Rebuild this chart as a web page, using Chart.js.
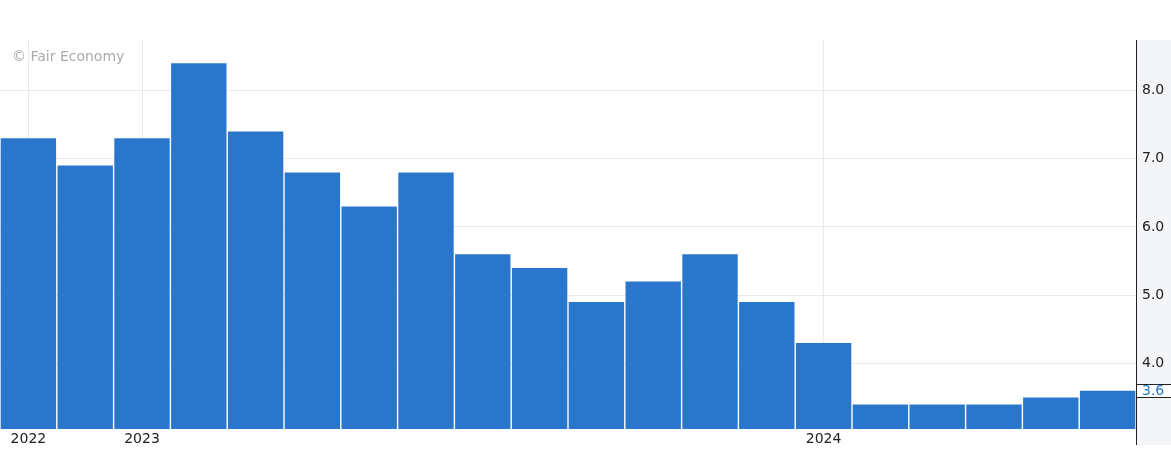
<!DOCTYPE html>
<html>
<head>
<meta charset="utf-8">
<script src="https://cdn.jsdelivr.net/npm/chart.js@4"></script>
<style>
  body { margin: 0; background: #fff; }
  #wrap { width: 1171px; height: 455px; position: relative; }
</style>
</head>
<body>
<div id="wrap"><canvas id="chart"></canvas></div>
<script>
// monthly values, Nov 2022 .. Jun 2024
const months = ["Nov 2022","Dec 2022","Jan 2023","Feb 2023","Mar 2023","Apr 2023","May 2023","Jun 2023",
  "Jul 2023","Aug 2023","Sep 2023","Oct 2023","Nov 2023","Dec 2023","Jan 2024","Feb 2024",
  "Mar 2024","Apr 2024","May 2024","Jun 2024"];
const values = [7.3, 6.9, 7.3, 8.4, 7.4, 6.8, 6.3, 6.8, 5.6, 5.4, 4.9, 5.2, 5.6, 4.9, 4.3, 3.4, 3.4, 3.4, 3.5, 3.6];
const tickLabels = ["2022","","2023","","","","","","","","","","","","2024","","","","",""];
const yTicks = [4, 5, 6, 7, 8];

const barColor = "#2a76cc";
const gridColor = "#e9e9ef";
const font = "14px 'DejaVu Sans'";

const decor = {
  id: "decor",
  beforeDraw(chart) {
    const ctx = chart.ctx;
    const a = chart.chartArea;
    ctx.save();
    // right axis panel
    ctx.fillStyle = "#f4f5f9";
    ctx.fillRect(a.right, a.top, chart.width - a.right, 445 - a.top);
    ctx.restore();
  },
  beforeDatasetsDraw(chart) {
    const ctx = chart.ctx;
    ctx.save();
    ctx.fillStyle = "#ababab";
    ctx.font = font;
    ctx.textBaseline = "middle";
    ctx.fillText("\u00a9 Fair Economy", 12, 57);
    ctx.restore();
  },
  afterDraw(chart) {
    const ctx = chart.ctx;
    const a = chart.chartArea;
    const y = chart.scales.y;
    const last = values[values.length - 1];
    const py = Math.round(y.getPixelForValue(last));
    ctx.save();
    // current value marker
    ctx.fillStyle = "#fff";
    ctx.fillRect(a.right, py - 7, chart.width - a.right, 14);
    ctx.strokeStyle = "#222";
    ctx.lineWidth = 1;
    ctx.beginPath();
    ctx.moveTo(a.right, py - 6.5); ctx.lineTo(chart.width, py - 6.5);
    ctx.moveTo(a.right, py + 6.5); ctx.lineTo(chart.width, py + 6.5);
    ctx.stroke();
    ctx.fillStyle = barColor;
    ctx.font = font;
    ctx.textBaseline = "middle";
    ctx.fillText(last.toFixed(1), a.right + 6, py);
    // axis line
    ctx.strokeStyle = "#222";
    ctx.beginPath();
    ctx.moveTo(a.right + 0.5, a.top);
    ctx.lineTo(a.right + 0.5, 445);
    ctx.stroke();
    ctx.restore();
  }
};

new Chart("chart", {
  type: "bar",
  data: {
    labels: months,
    datasets: [{
      data: values,
      backgroundColor: barColor,
      borderWidth: 0,
      barPercentage: 0.975,
      categoryPercentage: 1
    }]
  },
  options: {
    responsive: true,
    maintainAspectRatio: false,
    animation: false,
    layout: { padding: { top: 40, left: 0, right: 0, bottom: 0 } },
    plugins: { legend: { display: false }, tooltip: { enabled: false } },
    scales: {
      x: {
        grid: {
          offset: false,
          drawTicks: false,
          color: (c) => (c.tick && tickLabels[c.index] ? gridColor : "transparent")
        },
        border: { display: false },
        ticks: {
          autoSkip: false,
          maxRotation: 0,
          padding: 2,
          color: "#222",
          font: { family: "DejaVu Sans", size: 14 },
          callback: (v, i) => tickLabels[i]
        },
        afterFit: (s) => { s.height = 26; }
      },
      y: {
        position: "right",
        min: 3.04,
        max: 8.74,
        afterBuildTicks: (s) => { s.ticks = yTicks.map(v => ({ value: v })); },
        grid: { drawTicks: false, color: gridColor },
        border: { display: false },
        ticks: {
          padding: 6,
          color: "#222",
          font: { family: "DejaVu Sans", size: 14 },
          callback: (v) => v.toFixed(1)
        },
        afterFit: (s) => { s.width = 35; }
      }
    }
  },
  plugins: [decor]
});
</script>
</body>
</html>
